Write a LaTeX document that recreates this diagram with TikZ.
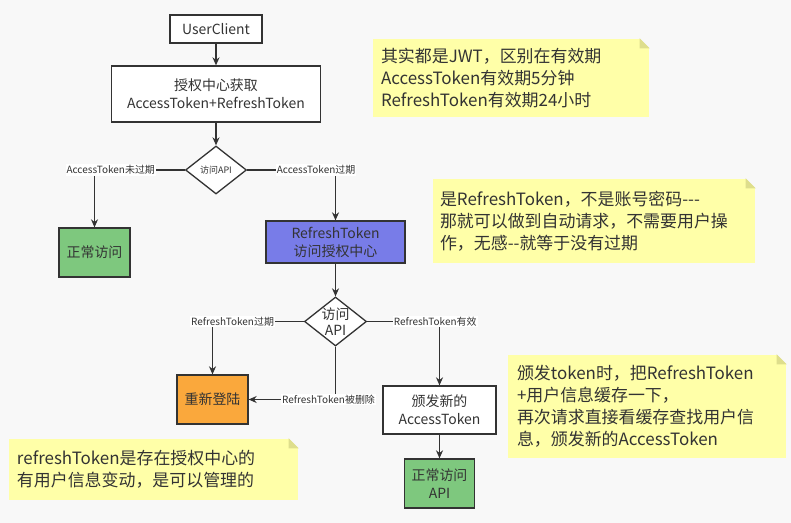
\documentclass[tikz,border=0pt]{standalone}
\usepackage{fontspec}
\setmainfont{Noto Sans CJK SC}
\usepackage{tikz}
\usetikzlibrary{arrows,arrows.meta,shapes,positioning}
\definecolor{ink}{RGB}{51,51,51}
\definecolor{okgreen}{RGB}{126,200,126}
\definecolor{rtblue}{RGB}{120,124,232}
\definecolor{loginorange}{RGB}{250,168,60}
\definecolor{noteyellow}{RGB}{255,255,168}
\definecolor{notefold}{RGB}{222,222,140}
\definecolor{paper}{RGB}{248,248,248}

\begin{document}
\begin{tikzpicture}[x=1bp,y=-1bp,>={Stealth[length=8bp,width=7bp]},line width=1.3bp,color=ink]
\tikzstyle{box}=[draw=ink,rectangle,inner sep=0pt,font=\fontsize{14}{18}\selectfont,align=center,fill=white]%
\tikzstyle{dia}=[draw=ink,diamond,inner sep=0pt,fill=white,align=center]%
\tikzstyle{note}=[fill=noteyellow,rectangle,inner sep=0pt,font=\fontsize{17}{22}\selectfont,align=left]%
\tikzstyle{lbl}=[fill=white,inner sep=1pt,font=\fontsize{10}{12}\selectfont]%
  \useasboundingbox[fill=paper] (0,0) rectangle (791,523);

  \node (user) at (216,29) [box,minimum width=92bp,minimum height=28bp] {UserClient};
  \node (auth) at (216,94) [box,minimum width=209bp,minimum height=56bp] {授权中心获取\\AccessToken+RefreshToken};
  \node (api1) at (216,170) [dia,minimum width=61bp,minimum height=48bp,font=\fontsize{9}{11}\selectfont] {访问API};
  \node (ok1) at (94.5,252.5) [box,fill=okgreen,minimum width=71bp,minimum height=49bp] {正常访问};
  \node (rt) at (335.5,242) [box,fill=rtblue,minimum width=139bp,minimum height=42bp] {RefreshToken\\访问授权中心};
  \node (api2) at (335.5,321.5) [dia,inner sep=-4bp,minimum width=62bp,minimum height=49bp,font=\fontsize{14}{16}\selectfont] {访问\\API};
  \node (relogin) at (212.5,399.5) [box,fill=loginorange,minimum width=71bp,minimum height=49bp] {重新登陆};
  \node (newat) at (439.5,410) [box,minimum width=113bp,minimum height=48bp] {颁发新的\\AccessToken};
  \node (ok2) at (439.5,483.5) [box,fill=okgreen,minimum width=70bp,minimum height=49bp] {正常访问\\API};

  \node (n1) at (511,78) [note,minimum width=276bp,minimum height=78bp,text width=260bp] {其实都是JWT，区别在有效期\\AccessToken有效期5分钟\\RefreshToken有效期24小时};
  \node (n2) at (594,221) [note,minimum width=322bp,minimum height=84bp,text width=308bp] {是RefreshToken，不是账号密码-{}-{}-\\那就可以做到自动请求，不需要用户操\\作，无感-{}-就等于没有过期};
  \node (n3) at (153.5,469.5) [note,minimum width=289bp,minimum height=61bp,text width=273bp] {refreshToken是存在授权中心的\\有用户信息变动，是可以管理的};
  \node (n4) at (647,406.5) [note,minimum width=278bp,minimum height=103bp,text width=260bp] {颁发token时，把RefreshToken\\+用户信息缓存一下，\\再次请求直接看缓存查找用户信\\息，颁发新的AccessToken};
  \foreach \n in {n1,n2,n3,n4} {
    \fill[paper] ([xshift=-10bp]\n.north east) -- (\n.north east) -- ([yshift=-10bp]\n.north east) -- cycle;
    \fill[notefold] ([xshift=-10bp]\n.north east) -- ([xshift=-10bp,yshift=-10bp]\n.north east) -- ([yshift=-10bp]\n.north east) -- cycle;
  }

  \draw [->] (user) -- (auth);
  \draw [->] (auth) -- (api1);
  \draw [->] (api1) -| node[lbl,pos=0.41] {AccessToken未过期} (ok1);
  \draw [->] (api1) -| node[lbl,pos=0.39] {AccessToken过期} (rt);
  \draw [->] (rt) -- (api2);
  \draw [->] (api2) -| node[lbl,pos=0.39] {RefreshToken过期} (relogin);
  \draw [->] (api2) -| node[lbl,pos=0.47] {RefreshToken有效} (newat);
  \draw [->] (api2) |- node[lbl,pos=0.54] {RefreshToken被删除} (relogin);
  \draw [->] (newat) -- (ok2);

\end{tikzpicture}
\end{document}
